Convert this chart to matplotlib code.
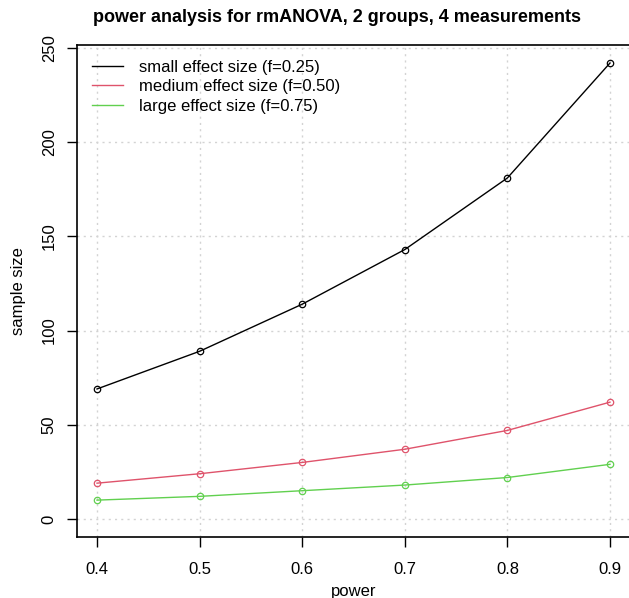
import matplotlib
matplotlib.use("Agg")
import matplotlib.pyplot as plt

power = [0.4, 0.5, 0.6, 0.7, 0.8, 0.9]
small = [69, 89, 114, 143, 181, 242]
medium = [19, 24, 30, 37, 47, 62]
large = [10, 12, 15, 18, 22, 29]
labels = ["small effect size (f=0.25)", "medium effect size (f=0.50)", "large effect size (f=0.75)"]
colors = ["black", "#DF536B", "#61D04F"]
xticks = [0.4, 0.5, 0.6, 0.7, 0.8, 0.9]
yticks = [0, 50, 100, 150, 200, 250]

plt.rcParams['font.family'] = ['Liberation Sans', 'DejaVu Sans']

W, H = 629, 598
fig = plt.figure(figsize=(W / 100, H / 100), dpi=100)
l, r, b, t = 76.5, 630.5, 537.2, 44.8
ax = fig.add_axes([l / W, 1 - b / H, (r - l) / W, (b - t) / H])

for ys, c, lab in zip([small, medium, large], colors, labels):
    ax.plot(power, ys, color=c, lw=1.0, label=lab, zorder=3)
    ax.plot(power, ys, ls='none', marker='o', ms=4.6, mfc='none', mec=c, mew=0.9, zorder=4)

ax.set_xlim(0.38, 0.92)
ax.set_ylim(-9.68, 251.68)
ax.set_xticks(xticks)
ax.set_yticks(yticks)
ax.set_xticklabels([f"{v:.1f}" for v in xticks])
ax.set_yticklabels([str(v) for v in yticks], rotation=90, va='center')
ax.tick_params(axis='both', labelsize=12, length=7.2, width=1, direction='out', color='black')
ax.tick_params(axis='x', pad=10.5)
ax.tick_params(axis='y', pad=7)
ax.grid(True, color='lightgray', ls=(0, (1.5, 3)), lw=1)
ax.set_axisbelow(True)
for s in ax.spines.values():
    s.set_linewidth(1.2)

ax.set_xlabel("power", fontsize=12, labelpad=5)
ax.set_ylabel("sample size", fontsize=12, labelpad=11)

fig.text(337 / W, 1 - 18 / H, "power analysis for rmANOVA, 2 groups, 4 measurements",
         ha='center', va='center', fontsize=13, fontweight='bold')

fs = 12
fpx = fs * 100 / 72
leg = ax.legend(loc='upper left', frameon=False, fontsize=fs,
                bbox_to_anchor=((92 - l) / (r - l), 1 - (60 - t) / (b - t)),
                handlelength=31 / fpx, handletextpad=16 / fpx,
                labelspacing=0.26, borderaxespad=0, borderpad=0)

fig.savefig("out.png", dpi=100)
